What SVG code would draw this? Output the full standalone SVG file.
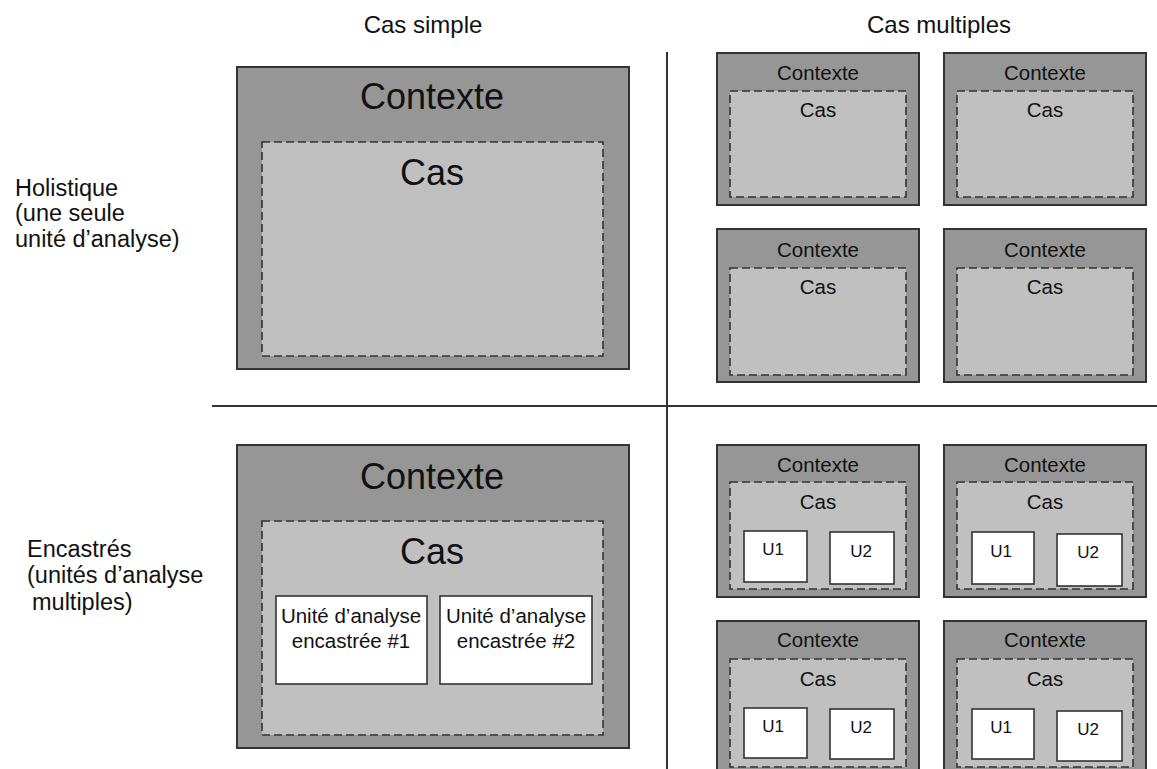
<svg xmlns="http://www.w3.org/2000/svg" width="1157" height="769" viewBox="0 0 1157 769">
<style>
text{font-family:"Liberation Sans",Arial,sans-serif;fill:#111;}
.ctx{fill:#969696;stroke:#333;stroke-width:2;}
.cas{fill:#c0c0c0;stroke:#333;stroke-width:1.6;stroke-dasharray:8 4;}
.unit{fill:#fff;stroke:#333;stroke-width:1.6;}
.big{font-size:36px;text-anchor:middle;}
.med{font-size:20.5px;text-anchor:middle;}
.unitt{font-size:20.5px;text-anchor:middle;}
.u{font-size:17px;text-anchor:middle;}
.hdr{font-size:24px;text-anchor:middle;}
.lbl{font-size:23.5px;}
.grid{stroke:#333;stroke-width:2;fill:none;}
</style>
<g id="headers">
<text class="hdr" x="423" y="33">Cas simple</text>
<text class="hdr" x="939" y="33">Cas multiples</text>
</g>
<g id="row-labels">
<text class="lbl" x="15" y="196">Holistique</text>
<text class="lbl" x="15" y="221">(une seule</text>
<text class="lbl" x="15" y="247">unité d’analyse)</text>
<text class="lbl" x="27" y="557">Encastrés</text>
<text class="lbl" x="27" y="583">(unités d’analyse</text>
<text class="lbl" x="32" y="610">multiples)</text>
</g>
<g id="connectors">
<line class="grid" x1="667" y1="52" x2="667" y2="769"/>
<line class="grid" x1="212" y1="406" x2="1157" y2="406"/>
</g>
<g id="simple-holistic">
<rect class="ctx" x="237" y="67" width="392" height="302"/>
<text class="big" x="432" y="109">Contexte</text>
<rect class="cas" x="262" y="142" width="341" height="214"/>
<text class="big" x="432" y="185">Cas</text>
</g>
<g id="simple-embedded">
<rect class="ctx" x="237" y="445" width="392" height="303"/>
<text class="big" x="432" y="489">Contexte</text>
<rect class="cas" x="262" y="521" width="341" height="214"/>
<text class="big" x="432" y="564">Cas</text>
<rect class="unit" x="276" y="596" width="151" height="88"/>
<text class="unitt" x="351" y="623">Unité d’analyse</text>
<text class="unitt" x="351" y="648">encastrée #1</text>
<rect class="unit" x="440" y="596" width="152" height="88"/>
<text class="unitt" x="516" y="623">Unité d’analyse</text>
<text class="unitt" x="516" y="648">encastrée #2</text>
</g>
<g id="multi-holistic-1">
<rect class="ctx" x="717" y="53" width="202" height="152"/>
<text class="med" x="818" y="80">Contexte</text>
<rect class="cas" x="730" y="91" width="176" height="106"/>
<text class="med" x="818" y="117">Cas</text>
</g>
<g id="multi-holistic-2">
<rect class="ctx" x="944" y="53" width="202" height="152"/>
<text class="med" x="1045" y="80">Contexte</text>
<rect class="cas" x="957" y="91" width="176" height="106"/>
<text class="med" x="1045" y="117">Cas</text>
</g>
<g id="multi-holistic-3">
<rect class="ctx" x="717" y="229" width="202" height="153"/>
<text class="med" x="818" y="257">Contexte</text>
<rect class="cas" x="730" y="268" width="176" height="107"/>
<text class="med" x="818" y="294">Cas</text>
</g>
<g id="multi-holistic-4">
<rect class="ctx" x="944" y="229" width="202" height="153"/>
<text class="med" x="1045" y="257">Contexte</text>
<rect class="cas" x="957" y="268" width="176" height="107"/>
<text class="med" x="1045" y="294">Cas</text>
</g>
<g id="multi-embedded-1">
<rect class="ctx" x="717" y="445" width="202" height="152"/>
<text class="med" x="818" y="472">Contexte</text>
<rect class="cas" x="730" y="482" width="176" height="107"/>
<text class="med" x="818" y="509">Cas</text>
<rect class="unit" x="744" y="531" width="63" height="51"/>
<text class="u" x="773" y="555">U1</text>
<rect class="unit" x="830" y="532" width="64" height="52"/>
<text class="u" x="861" y="557">U2</text>
</g>
<g id="multi-embedded-2">
<rect class="ctx" x="944" y="445" width="202" height="152"/>
<text class="med" x="1045" y="472">Contexte</text>
<rect class="cas" x="957" y="482" width="176" height="107"/>
<text class="med" x="1045" y="509">Cas</text>
<rect class="unit" x="972" y="532" width="62" height="52"/>
<text class="u" x="1001" y="557">U1</text>
<rect class="unit" x="1057" y="534" width="65" height="52"/>
<text class="u" x="1088" y="558">U2</text>
</g>
<g id="multi-embedded-3">
<rect class="ctx" x="717" y="621" width="202" height="160"/>
<text class="med" x="818" y="647">Contexte</text>
<rect class="cas" x="730" y="659" width="176" height="108"/>
<text class="med" x="818" y="686">Cas</text>
<rect class="unit" x="744" y="708" width="63" height="50"/>
<text class="u" x="773" y="732">U1</text>
<rect class="unit" x="830" y="709" width="64" height="50"/>
<text class="u" x="861" y="733">U2</text>
</g>
<g id="multi-embedded-4">
<rect class="ctx" x="944" y="621" width="202" height="160"/>
<text class="med" x="1045" y="647">Contexte</text>
<rect class="cas" x="957" y="659" width="176" height="108"/>
<text class="med" x="1045" y="686">Cas</text>
<rect class="unit" x="972" y="709" width="62" height="50"/>
<text class="u" x="1001" y="733">U1</text>
<rect class="unit" x="1057" y="711" width="65" height="50"/>
<text class="u" x="1088" y="735">U2</text>
</g>
</svg>
